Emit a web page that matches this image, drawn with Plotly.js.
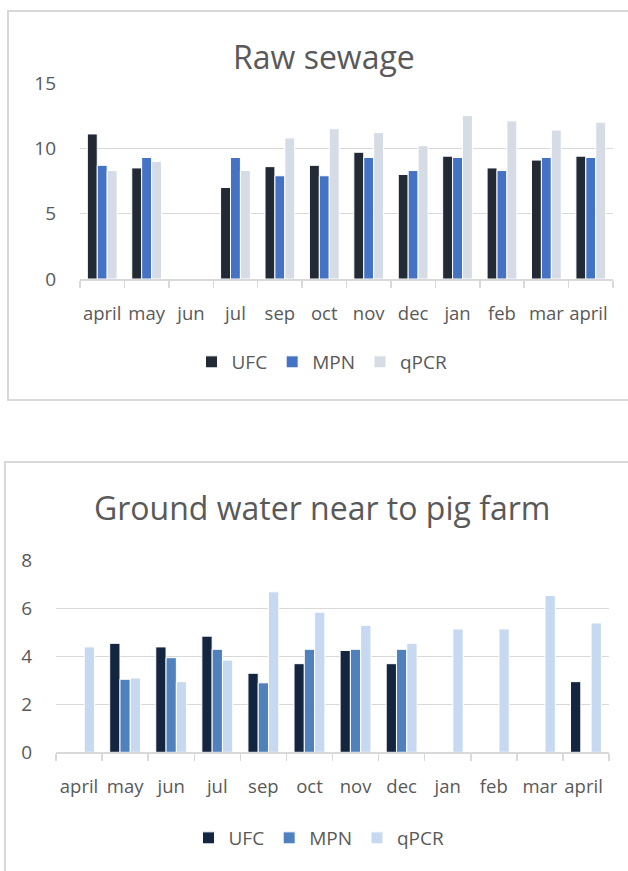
<!DOCTYPE html>
<html>
<head>
<meta charset="utf-8">
<script src="https://cdn.plot.ly/plotly-3.0.1.min.js"></script>
<style>
  html, body { margin: 0; padding: 0; background: #ffffff; }
  #chart { width: 628px; height: 871px; }
</style>
</head>
<body>
<div id="chart"></div>
<script>
// Month categories (same for both panels)
const months = ['april', 'may', 'jun', 'jul', 'sep', 'oct', 'nov', 'dec', 'jan', 'feb', 'mar', 'april '];

// Raw sewage
const sewageUFC  = [11.1, 8.5, null, 7.0, 8.6, 8.7, 9.7, 8.0, 9.4, 8.5, 9.1, 9.4];
const sewageMPN  = [8.7, 9.3, null, 9.3, 7.9, 7.9, 9.3, 8.3, 9.3, 8.3, 9.3, 9.3];
const sewageQPCR = [8.3, 9.0, null, 8.3, 10.8, 11.5, 11.2, 10.2, 12.5, 12.1, 11.4, 12.0];

// Ground water near to pig farm
const groundUFC  = [null, 4.55, 4.4, 4.85, 3.3, 3.7, 4.25, 3.7, null, null, null, 2.95];
const groundMPN  = [null, 3.05, 3.95, 4.3, 2.9, 4.3, 4.3, 4.3, null, null, null, null];
const groundQPCR = [4.4, 3.1, 2.95, 3.85, 6.7, 5.85, 5.3, 4.55, 5.15, 5.15, 6.55, 5.4];

const seriesNames = ['UFC', 'MPN', 'qPCR'];
const sewageColors = ['#222a35', '#4472c4', '#d6dce5'];
const groundColors = ['#14263f', '#4f81bd', '#c6d9f1'];

const W = 628, H = 871;
const px = v => v / W;
const py = v => 1 - v / H;

const FONT = 'Open Sans, Noto Sans, sans-serif';
const TXT = '#595959';
const GRID = '#d9d9d9';

function barTrace(name, values, color, xa, ya, legend) {
  return {
    type: 'bar', name: name, x: months, y: values,
    xaxis: xa, yaxis: ya, legend: legend,
    marker: { color: color, line: { color: '#ffffff', width: 1 } },
    hoverinfo: 'skip'
  };
}

const data = [
  barTrace(seriesNames[0], sewageUFC,  sewageColors[0], 'x', 'y', 'legend'),
  barTrace(seriesNames[1], sewageMPN,  sewageColors[1], 'x', 'y', 'legend'),
  barTrace(seriesNames[2], sewageQPCR, sewageColors[2], 'x', 'y', 'legend'),
  barTrace(seriesNames[0], groundUFC,  groundColors[0], 'x2', 'y2', 'legend2'),
  barTrace(seriesNames[1], groundMPN,  groundColors[1], 'x2', 'y2', 'legend2'),
  barTrace(seriesNames[2], groundQPCR, groundColors[2], 'x2', 'y2', 'legend2')
];

function xAxis(domain, anchor) {
  return {
    domain: domain, anchor: anchor, type: 'category',
    showline: true, linecolor: GRID, linewidth: 1.5,
    ticks: 'outside', tickson: 'boundaries', ticklen: 7, tickwidth: 1.5, tickcolor: GRID,
    showgrid: false, zeroline: false, tickangle: 0,
    tickfont: { family: FONT, size: 18.5, color: TXT },
    ticklabelstandoff: 17,
    fixedrange: true
  };
}
function yAxis(domain, anchor, range, dtick) {
  return {
    domain: domain, anchor: anchor, range: range, dtick: dtick,
    showline: false, ticks: '', zeroline: false,
    showgrid: true, gridcolor: GRID, gridwidth: 1.5,
    tickfont: { family: FONT, size: 19, color: TXT },
    ticklabelstandoff: 23,
    fixedrange: true
  };
}

const legendBase = {
  orientation: 'h', xanchor: 'center', yanchor: 'middle',
  font: { family: FONT, size: 19, color: TXT },
  bgcolor: 'rgba(0,0,0,0)', itemclick: false, itemdoubleclick: false,
  traceorder: 'normal'
};

const layout = {
  width: W, height: H,
  margin: { l: 0, r: 0, t: 0, b: 0 },
  paper_bgcolor: '#ffffff', plot_bgcolor: 'rgba(0,0,0,0)',
  barmode: 'group', bargap: 0.33, bargroupgap: 0,
  showlegend: true,
  xaxis:  xAxis([px(80), px(613)], 'y'),
  yaxis:  yAxis([py(279), py(83)], 'x', [0, 15], 5),
  xaxis2: xAxis([px(56), px(609)], 'y2'),
  yaxis2: yAxis([py(752.3), py(560.7)], 'x2', [0, 8], 2),
  legend:  Object.assign({ x: px(322), y: py(362) }, legendBase),
  legend2: Object.assign({ x: px(319), y: py(838) }, legendBase),
  annotations: [
    { text: 'Raw sewage', xref: 'paper', yref: 'paper', x: px(324), y: py(57),
      xanchor: 'center', yanchor: 'middle', showarrow: false,
      font: { family: FONT, size: 32, color: TXT } },
    { text: 'Ground water near to pig farm', xref: 'paper', yref: 'paper', x: px(322), y: py(507),
      xanchor: 'center', yanchor: 'middle', showarrow: false,
      font: { family: FONT, size: 32, color: TXT } }
  ],
  shapes: [
    // chart frames
    { type: 'path', xref: 'paper', yref: 'paper', layer: 'below',
      path: `M 1.05 ${py(11)} L ${px(8)} ${py(11)} L ${px(8)} ${py(400)} L 1.05 ${py(400)}`,
      line: { color: GRID, width: 2 } },
    { type: 'path', xref: 'paper', yref: 'paper', layer: 'below',
      path: `M 1.05 ${py(462)} L ${px(5)} ${py(462)} L ${px(5)} -0.05`,
      line: { color: GRID, width: 2 } }
  ]
};

Plotly.newPlot('chart', data, layout, { displayModeBar: false, staticPlot: true });
</script>
</body>
</html>
